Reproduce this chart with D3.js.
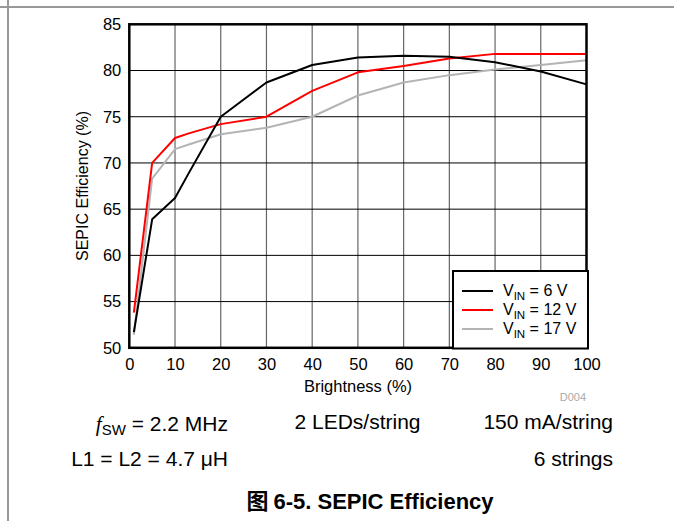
<!DOCTYPE html>
<html>
<head>
<meta charset="utf-8">
<script src="https://cdn.jsdelivr.net/npm/d3@7"></script>
<style>
body { margin: 0; background: #fff; }
text { font-family: "Liberation Sans", Arial, sans-serif; }
</style>
</head>
<body>
<script>
var svgWidth = 674
var svgHeight = 521

// data
var brightness = [1, 5, 10, 13, 20, 30, 40, 50, 60, 70, 80, 90, 100];
var vin6 = [51.7, 63.9, 66.2, 68.9, 75.0, 78.7, 80.6, 81.4, 81.6, 81.5, 80.9, 79.9, 78.5];
var vin12 = [53.8, 70.0, 72.7, 73.2, 74.2, 75.0, 77.8, 79.8, 80.5, 81.3, 81.8, 81.8, 81.8];
var vin17 = [51.4, 68.3, 71.5, 72.0, 73.1, 73.8, 75.0, 77.3, 78.7, 79.5, 80.1, 80.6, 81.1];
var seriesNames = ["6 V", "12 V", "17 V"];
var seriesColors = ["#000000", "#ff0000", "#b4b4b4"];
var xTicks = [0, 10, 20, 30, 40, 50, 60, 70, 80, 90, 100];
var yTicks = [50, 55, 60, 65, 70, 75, 80, 85];

var margin = {top: 24.3, left: 129.3};
var width = 586.5 - margin.left;
var height = 347.8 - margin.top;

var svg = d3.select("body").append("svg").attr("width", svgWidth).attr("height", svgHeight);

// page frame lines
svg.append("line").attr("x1", 0).attr("x2", svgWidth).attr("y1", 7).attr("y2", 7)
    .attr("stroke", "#333").attr("stroke-width", 1);
svg.append("line").attr("x1", 8).attr("x2", 8).attr("y1", 0).attr("y2", svgHeight)
    .attr("stroke", "#999").attr("stroke-width", 2);

var chartGroup = svg.append("g").attr("transform", `translate(${margin.left}, ${margin.top})`);

var x = d3.scaleLinear().domain([0, 100]).range([0, width]);
var y = d3.scaleLinear().domain([50, 85]).range([height, 0]);

// grid
chartGroup.selectAll(".vgrid").data(xTicks.slice(1, -1)).enter().append("line")
    .attr("x1", d => x(d)).attr("x2", d => x(d)).attr("y1", 0).attr("y2", height)
    .attr("stroke", "#666").attr("stroke-width", 1.2);
chartGroup.selectAll(".hgrid").data(yTicks.slice(1, -1)).enter().append("line")
    .attr("x1", 0).attr("x2", width).attr("y1", d => y(d)).attr("y2", d => y(d))
    .attr("stroke", "#000").attr("stroke-width", 1);

// axes (labels only)
var bottomAxis = d3.axisBottom(x).tickValues(xTicks).tickSize(0).tickPadding(10);
var leftAxis = d3.axisLeft(y).tickValues(yTicks).tickSize(0).tickPadding(8);
var gx = chartGroup.append("g").attr("transform", `translate(0,${height})`).call(bottomAxis);
var gy = chartGroup.append("g").call(leftAxis);
[gx, gy].forEach(function(g) {
    g.select(".domain").remove();
    g.selectAll("text").attr("font-size", "16.5px").attr("fill", "#000")
        .style("font-family", "Liberation Sans, Arial, sans-serif");
});

// lines
var line = d3.line().x((d, i) => x(brightness[i])).y(d => y(d));
[vin17, vin12, vin6].forEach(function(vals, k) {
    var idx = 2 - k;
    chartGroup.append("path").datum(vals).attr("d", line)
        .attr("fill", "none").attr("stroke", seriesColors[idx]).attr("stroke-width", 2)
        .attr("stroke-linejoin", "round");
});

// plot border
chartGroup.append("rect").attr("x", 0).attr("y", 0).attr("width", width).attr("height", height)
    .attr("fill", "none").attr("stroke", "#000").attr("stroke-width", 2.5);

// legend
var legend = svg.append("g").attr("transform", "translate(453,271)");
legend.append("rect").attr("width", 135).attr("height", 77.5)
    .attr("fill", "#fff").attr("stroke", "#000").attr("stroke-width", 2);
seriesNames.forEach(function(name, i) {
    var ly = 20 + i * 19;
    legend.append("line").attr("x1", 9).attr("x2", 40).attr("y1", ly).attr("y2", ly)
        .attr("stroke", seriesColors[i]).attr("stroke-width", 2);
    var t = legend.append("text").attr("x", 50).attr("y", ly + 5).attr("font-size", "16px");
    t.append("tspan").text("V");
    t.append("tspan").attr("font-size", "11.5px").attr("dy", 4).text("IN");
    t.append("tspan").attr("dy", -4).text(" = " + name);
});

// axis titles
svg.append("text").attr("x", 358).attr("y", 392).attr("text-anchor", "middle")
    .attr("font-size", "16.5px").text("Brightness (%)");
svg.append("text").attr("transform", "translate(88,186) rotate(-90)").attr("text-anchor", "middle")
    .attr("font-size", "16px").text("SEPIC Efficiency (%)");
svg.append("text").attr("x", 586).attr("y", 401).attr("text-anchor", "end")
    .attr("font-size", "11px").attr("fill", "#aaa").text("D004");

// conditions
var f = svg.append("text").attr("x", 228).attr("y", 431).attr("text-anchor", "end").attr("font-size", "21px");
f.append("tspan").attr("font-style", "italic").attr("font-family", "Liberation Serif, serif").text("f");
f.append("tspan").attr("font-size", "15px").attr("dy", 4).text("SW");
f.append("tspan").attr("dy", -4).text(" = 2.2 MHz");
svg.append("text").attr("x", 357.5).attr("y", 429).attr("text-anchor", "middle").attr("font-size", "21px").text("2 LEDs/string");
svg.append("text").attr("x", 613).attr("y", 429).attr("text-anchor", "end").attr("font-size", "21px").text("150 mA/string");
svg.append("text").attr("x", 228).attr("y", 466).attr("text-anchor", "end").attr("font-size", "21px").text("L1 = L2 = 4.7 μH");
svg.append("text").attr("x", 613).attr("y", 466).attr("text-anchor", "end").attr("font-size", "21px").text("6 strings");

var title = svg.append("text").attr("x", 370).attr("y", 509).attr("text-anchor", "middle")
    .attr("font-size", "22px").attr("font-weight", "bold");
title.append("tspan").style("font-family", "Noto Sans CJK SC, sans-serif").attr("font-weight", "bold").text("图 ");
title.append("tspan").text("6-5. SEPIC Efficiency");
</script>
</body>
</html>
